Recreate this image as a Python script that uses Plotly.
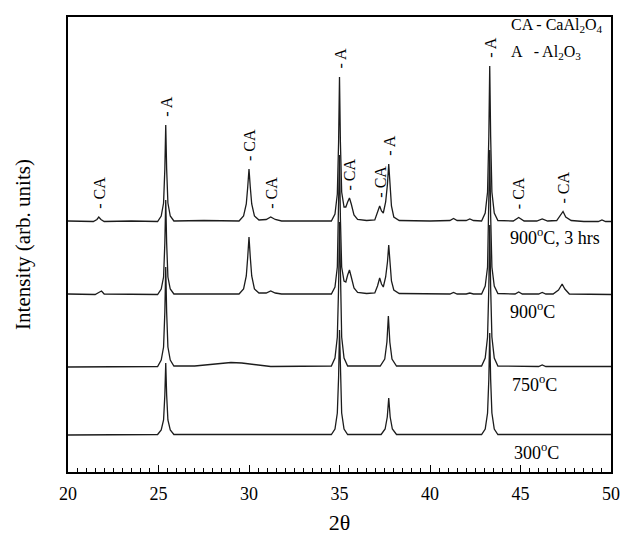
import numpy as np
import plotly.graph_objects as go

# ---------------- data ----------------
# 2-theta positions and intensities (arb. units, above each curve's own baseline)
x_900_3h = [20.0, 20.8, 21.4, 21.6, 21.7, 21.82, 22.0, 23.5,
            24.95, 25.15, 25.28, 25.35, 25.4, 25.45, 25.52, 25.65, 25.85, 27.5,
            29.45, 29.7, 29.85, 29.93, 30.0, 30.07, 30.15, 30.3, 30.55,
            30.95, 31.2, 31.45, 31.8, 33.5,
            34.55, 34.75, 34.88, 34.95, 35.0, 35.05, 35.12, 35.25, 35.35, 35.45, 35.55, 35.65, 35.8, 36.0, 36.5,
            36.95, 37.1, 37.22, 37.32, 37.42, 37.55, 37.65, 37.72, 37.79, 37.87, 38.0, 38.3,
            40.0, 41.1, 41.3, 41.5, 42.0, 42.2, 42.4,
            42.85, 43.05, 43.18, 43.25, 43.3, 43.35, 43.42, 43.55, 43.75,
            44.6, 44.9, 45.2, 45.9, 46.2, 46.5,
            47.0, 47.2, 47.35, 47.5, 47.8, 48.5, 49.3, 49.5, 49.7, 50.0]
y_900_3h = [1, 0.5, 0.5, 2.5, 5, 2.5, 0.5, 1,
            0.5, 6, 19, 53, 97, 53, 19, 6, 1, 1.5,
            1, 6, 18, 35, 53, 35, 18, 6, 2,
            2.5, 5, 2.5, 1, 1,
            1, 8, 28, 80, 145, 80, 30, 15, 15, 20, 24, 18, 7, 2.5, 1.5,
            2, 9, 16, 11, 9, 20, 38, 58, 38, 16, 5, 1.5,
            1, 1.5, 3.5, 1.5, 1.5, 3, 1.5,
            1, 9, 30, 86, 156, 86, 30, 9, 1.5,
            1, 4.5, 1, 1, 3, 1,
            1.5, 6, 10.5, 5, 1.5, 0.5, 0.5, 2, 0.5, 0.5]

x_900 = [20.0, 21.5, 21.7, 21.85, 22.0,
         24.95, 25.15, 25.28, 25.35, 25.4, 25.45, 25.52, 25.65, 25.85, 27.5,
         29.45, 29.7, 29.85, 29.93, 30.0, 30.07, 30.15, 30.3, 30.55,
         30.95, 31.2, 31.45, 31.8,
         34.55, 34.75, 34.88, 34.95, 35.0, 35.05, 35.12, 35.25, 35.35, 35.45, 35.55, 35.65, 35.8, 36.0, 36.5,
         36.95, 37.1, 37.22, 37.32, 37.42, 37.55, 37.65, 37.72, 37.79, 37.87, 38.0, 38.3,
         41.1, 41.3, 41.5, 42.0, 42.2, 42.4,
         42.85, 43.05, 43.18, 43.25, 43.3, 43.35, 43.42, 43.55, 43.75,
         44.7, 44.9, 45.1, 46.0, 46.2, 46.4,
         46.8, 47.1, 47.3, 47.45, 47.7, 50.0]
y_900 = [1, 0.5, 2.5, 4, 1,
         0.5, 6, 18, 52, 95, 52, 18, 6, 1, 1,
         1, 6, 19, 38, 58, 38, 19, 6, 2,
         2, 4, 2, 1,
         1, 8, 28, 77, 140, 77, 28, 14, 13, 20, 25, 18, 7, 2.5, 1.5,
         2, 9, 17, 11, 8, 18, 33, 50, 33, 14, 5, 1.5,
         1, 2.5, 1, 1, 2, 1,
         1, 9, 28, 80, 145, 80, 28, 9, 1.5,
         1, 3, 1, 1, 2.5, 1,
         1, 5, 11, 6, 1, 0.5]

x_750 = [20.0, 24.95, 25.15, 25.28, 25.35, 25.4, 25.45, 25.52, 25.65, 25.85,
         27.0, 28.0, 29.0, 29.6, 30.4, 31.2,
         34.55, 34.75, 34.88, 34.95, 35.0, 35.05, 35.12, 35.25, 35.45,
         37.25, 37.5, 37.62, 37.7, 37.78, 37.9, 38.15,
         42.85, 43.05, 43.18, 43.25, 43.3, 43.35, 43.42, 43.55, 43.75,
         46.0, 46.2, 46.4, 50.0]
y_750 = [0, 0.5, 7, 20, 55, 100, 55, 20, 7, 1,
         1, 2.5, 4.5, 4, 2, 0.5,
         1, 9, 30, 80, 145, 80, 30, 9, 1,
         1, 8, 25, 51, 25, 8, 1,
         1, 9, 30, 80, 142, 80, 30, 9, 1,
         0.5, 2, 0.5, 0.5]

x_300 = [20.0, 24.95, 25.15, 25.28, 25.35, 25.4, 25.45, 25.52, 25.65, 25.85,
         34.55, 34.75, 34.88, 34.95, 35.0, 35.05, 35.12, 35.25, 35.45,
         37.3, 37.52, 37.64, 37.72, 37.8, 37.92, 38.15,
         42.85, 43.05, 43.18, 43.25, 43.3, 43.35, 43.42, 43.55, 43.75, 50.0]
y_300 = [0, 0.5, 5, 15, 40, 72, 40, 15, 5, 0.5,
         0.5, 6, 22, 58, 105, 58, 22, 6, 0.5,
         0.5, 6, 18, 37, 18, 6, 0.5,
         0.5, 6, 22, 56, 102, 56, 22, 6, 0.5, 0.5]

# vertical stacking offsets of the four patterns
offsets = [250, 177, 105, 37]
series_names = ["900<sup>o</sup>C, 3 hrs", "900<sup>o</sup>C", "750<sup>o</sup>C", "300<sup>o</sup>C"]

# phase labels above the peaks of the top pattern
label_x = [21.7, 25.4, 30.0, 31.2, 35.0, 35.55, 37.22, 37.72, 43.3, 44.9, 47.35]
label_text = ["CA", "A", "CA", "CA", "A", "CA", "CA", "A", "A", "CA", "CA"]

x_ticks = [20, 25, 30, 35, 40, 45, 50]

# ---------------- figure ----------------
FONT = "Liberation Serif"
fig = go.Figure()

series = [(x_900_3h, y_900_3h), (x_900, y_900), (x_750, y_750), (x_300, y_300)]
for (xs, ys), off, name in zip(series, offsets, series_names):
    fig.add_trace(go.Scatter(
        x=xs, y=np.array(ys) + off, mode="lines", name=name,
        line=dict(color="#1c1c1c", width=1.3), showlegend=False))

# peak labels
top_vals = np.interp(label_x, x_900_3h, y_900_3h) + offsets[0]
for lx, ly, t in zip(label_x, top_vals, label_text):
    fig.add_annotation(x=lx, y=ly, text="- " + t, textangle=-90,
                       showarrow=False, xanchor="center", yanchor="bottom",
                       yshift=6, font=dict(family=FONT, size=16, color="black"))

# sample labels
label_pos_y = [236, 162, 89, 21]
label_pos_x = [44.3, 44.3, 44.4, 44.55]
for name, lx, ly in zip(series_names, label_pos_x, label_pos_y):
    fig.add_annotation(x=lx, y=ly, text=name, showarrow=False,
                       xanchor="left", yanchor="middle",
                       font=dict(family=FONT, size=18, color="black"))

# phase key
fig.add_annotation(x=44.35, y=447, text="CA - CaAl<sub>2</sub>O<sub>4</sub>", showarrow=False,
                   xanchor="left", yanchor="middle", font=dict(family=FONT, size=16, color="black"))
fig.add_annotation(x=44.35, y=420, text="A   - Al<sub>2</sub>O<sub>3</sub>", showarrow=False,
                   xanchor="left", yanchor="middle", font=dict(family=FONT, size=16, color="black"))

fig.update_layout(
    width=620, height=527,
    margin=dict(l=60, r=17, t=9, b=63),
    paper_bgcolor="white", plot_bgcolor="white",
    font=dict(family=FONT, color="black"),
    xaxis=dict(range=[20, 50], tickvals=x_ticks, ticks="inside", ticklen=7, tickwidth=1.2,
               tickcolor="black", showline=True, linecolor="black", linewidth=2, mirror=True,
               showgrid=False, zeroline=False, tickfont=dict(size=18, family=FONT),
               ticklabelstandoff=4, automargin=False,
               minor=dict(dtick=0.5, ticks="inside", ticklen=4, tickcolor="black", tickwidth=1),
               title=dict(text="2θ", font=dict(size=22, family=FONT), standoff=14)),
    yaxis=dict(range=[0, 455], showticklabels=False, ticks="", showline=True, linecolor="black",
               linewidth=2, mirror=True, showgrid=False, zeroline=False, automargin=False,
               title=dict(text="Intensity (arb. units)", font=dict(size=21, family=FONT), standoff=30)),
)

fig.write_html("out.html")
